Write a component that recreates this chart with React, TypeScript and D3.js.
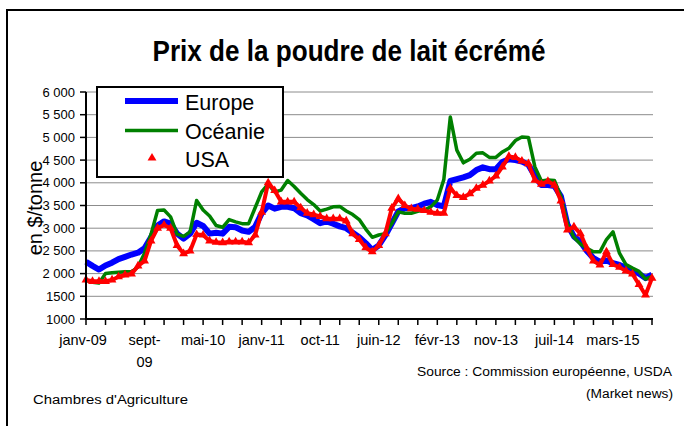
import React from 'react';
import * as d3 from 'd3';

// prix mensuels (pas de 4 semaines) depuis janv-09, en $/tonne
const europe = [
  2260, 2170, 2090, 2180, 2240, 2320, 2370, 2420, 2460, 2560, 2800, 3060, 3150, 3100, 2880, 2770,
  2880, 3120, 3050, 2880, 2900, 2880, 3030, 3020, 2950, 2920, 3030, 3330, 3500, 3430, 3470, 3470,
  3440, 3330, 3280, 3200, 3110, 3150, 3100, 3040, 3000, 2900, 2800, 2670, 2520, 2620, 2840, 3100,
  3370, 3440, 3440, 3480, 3540, 3580, 3510, 3480, 4040, 4080, 4120, 4170, 4280, 4340, 4300, 4300,
  4460, 4520, 4500, 4470, 4400, 4150, 3950, 3950, 3930, 3700, 3080, 2820, 2700, 2500, 2340, 2260,
  2290, 2230, 2190, 2130, 2070, 2000, 1900, 1980,
];
const oceanie = [
  1850, 1810, 1790, 2000, 2020, 2030, 2040, 2040, 2150, 2450, 2870, 3390, 3400, 3250, 2870, 2820,
  2920, 3610, 3400, 3270, 3060, 3020, 3190, 3140, 3100, 3100, 3450, 3800, 3970, 3800, 3840, 4050,
  3920, 3770, 3630, 3520, 3380, 3420, 3470, 3480, 3380, 3300, 3190, 2980, 2800, 2850, 2880, 3100,
  3360, 3330, 3330, 3370, 3400, 3470, 3620, 4070, 5450, 4720, 4440, 4520, 4650, 4660, 4560, 4560,
  4680, 4760, 4930, 5010, 5000, 4350, 4040, 4060, 4050, 3700, 3100, 2800, 2650, 2560, 2480, 2480,
  2750, 2920, 2450, 2200, 2120, 2050, 1880, 1940,
];
const usa = [
  1860, 1830, 1830, 1830, 1860, 1930, 1970, 1990, 2170, 2280, 2720, 3000, 3070, 3000, 2620, 2440,
  2500, 2860, 2850, 2720, 2690, 2680, 2700, 2700, 2700, 2680, 2850, 3350, 4000, 3830, 3580, 3580,
  3580, 3450, 3330, 3300, 3260, 3210, 3210, 3210, 3160, 2880, 2750, 2570, 2480, 2620, 2880, 3440,
  3650, 3500, 3430, 3420, 3390, 3350, 3330, 3330, 3880, 3720, 3680, 3760, 3880, 3950, 4040, 4150,
  4350, 4580, 4560, 4480, 4420, 4060, 3970, 4030, 3950, 3600, 2960, 3030, 2880, 2550, 2280, 2190,
  2480, 2200, 2140, 2060, 1990, 1760, 1530, 1900,
];

const yTicks = [1000, 1500, 2000, 2500, 3000, 3500, 4000, 4500, 5000, 5500, 6000];
const yTickLabels = ['1000', '1500', '2 000', '2 500', '3 000', '3 500', '4 000', '4 500', '5 000', '5 500', '6 000'];
const xLabels = ['janv-09', 'sept-|09', 'mai-10', 'janv-11', 'oct-11', 'juin-12', 'févr-13', 'nov-13', 'juil-14', 'mars-15'];

const font = '"Liberation Sans", Arial, sans-serif';

export default function App() {
  const weekStep = 4;
  const x = d3.scaleLinear().domain([0, 348]).range([86, 652]);
  const y = d3.scaleLinear().domain([1000, 6000]).range([319, 92]);
  const line = d3.line<number>().x((d, i) => x(i * weekStep)).y(d => y(d));
  const tri = d3.symbol(d3.symbolTriangle, 34)();
  const xTicks = d3.range(0, 349, 12);

  return (
    <svg width={684} height={426} style={{ position: 'absolute', left: 0, top: 0, background: '#fff' }}
      fontFamily={font}>
      {/* cadre */}
      <path d="M7,426V10H684" fill="none" stroke="#000" strokeWidth={2} />

      <text x={349} y={61} textAnchor="middle" fontSize={29} fontWeight="bold" textLength={393}
        lengthAdjust="spacingAndGlyphs">Prix de la poudre de lait écrémé</text>

      {/* grille */}
      {yTicks.map(t => (
        <line key={t} x1={86} x2={653} y1={y(t)} y2={y(t)} stroke="#8c8c8c" strokeWidth={1} />
      ))}

      {/* séries */}
      <path d={line(europe) || ''} fill="none" stroke="#0000ff" strokeWidth={6} strokeLinejoin="round" />
      <path d={line(oceanie) || ''} fill="none" stroke="#008000" strokeWidth={3.5} strokeLinejoin="round" />
      <path d={line(usa) || ''} fill="none" stroke="#ff0000" strokeWidth={4} strokeLinejoin="round" />
      {usa.map((d, i) => (
        <path key={i} d={tri || ''} transform={`translate(${x(i * weekStep)},${y(d)})`} fill="#ff0000" />
      ))}

      {/* axes */}
      <line x1={86} x2={86} y1={92} y2={320} stroke="#000" strokeWidth={2} />
      <line x1={85} x2={653} y1={319} y2={319} stroke="#000" strokeWidth={2} />
      {yTicks.map((t, i) => (
        <g key={t}>
          <line x1={80} x2={86} y1={y(t)} y2={y(t)} stroke="#000" strokeWidth={1.5} />
          <text x={75} y={y(t) + 4.5} textAnchor="end" fontSize={13}>{yTickLabels[i]}</text>
        </g>
      ))}
      {xTicks.map(t => (
        <line key={t} x1={x(t)} x2={x(t)} y1={319} y2={325} stroke="#000" strokeWidth={1.5} />
      ))}
      {xLabels.map((l, i) => {
        const parts = l.split('|');
        return (
          <text key={l} x={x(i * 36)} y={345} textAnchor="middle" fontSize={14.5}>
            {parts.map((p, j) => (
              <tspan key={j} x={x(i * 36) - (i === 0 ? 3 : 0)} dy={j === 0 ? 0 : 22}>{p}</tspan>
            ))}
          </text>
        );
      })}

      <text transform="translate(42,208) rotate(-90)" textAnchor="middle" fontSize={20}>en $/tonne</text>

      {/* légende */}
      <rect x={97} y={87} width={186} height={90} fill="#fff" stroke="#000" strokeWidth={2} />
      <line x1={125} x2={178} y1={101} y2={101} stroke="#0000ff" strokeWidth={6} />
      <line x1={125} x2={178} y1={130.5} y2={130.5} stroke="#008000" strokeWidth={3.5} />
      <path d={tri || ''} transform="translate(152,158)" fill="#ff0000" />
      <text x={185} y={110} fontSize={21.5}>Europe</text>
      <text x={185} y={139} fontSize={21.5}>Océanie</text>
      <text x={185} y={167} fontSize={21.5}>USA</text>

      {/* sources */}
      <text x={672} y={376} textAnchor="end" fontSize={12.5} textLength={255} lengthAdjust="spacingAndGlyphs">
        Source : Commission européenne, USDA</text>
      <text x={673} y={398} textAnchor="end" fontSize={12.5} textLength={87} lengthAdjust="spacingAndGlyphs">
        (Market news)</text>
      <text x={33} y={404} fontSize={12.5} textLength={155} lengthAdjust="spacingAndGlyphs">Chambres d'Agriculture</text>
    </svg>
  );
}
